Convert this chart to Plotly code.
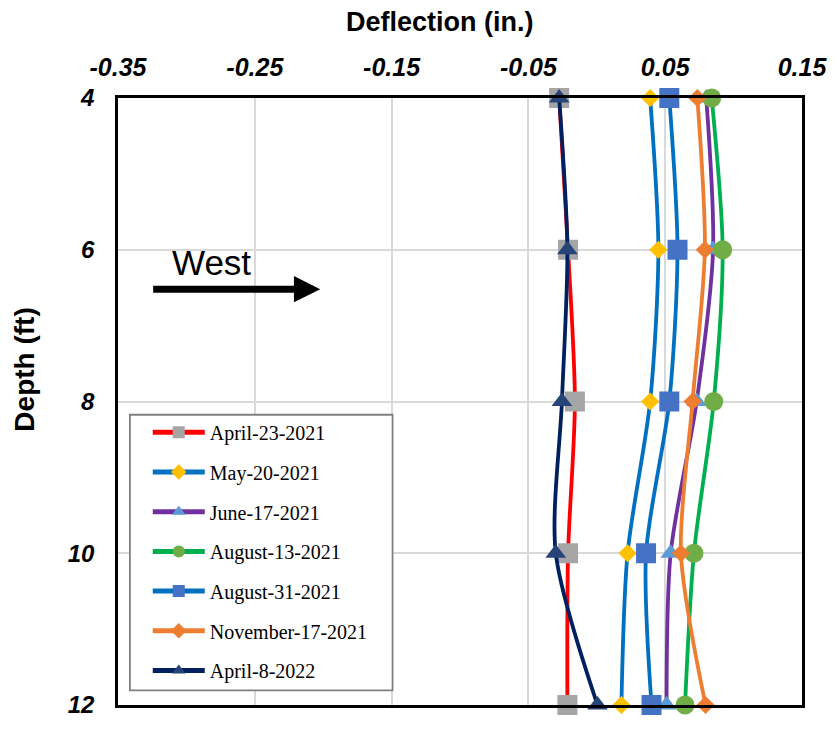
import plotly.graph_objects as go

depth = [4, 6, 8, 10, 12]

names = ["April-23-2021", "May-20-2021", "June-17-2021", "August-13-2021",
         "August-31-2021", "November-17-2021", "April-8-2022"]

apr23_2021 = [-0.0275, -0.021, -0.016, -0.021, -0.0215]
may20_2021 = [0.039, 0.045, 0.039, 0.0225, 0.018]
jun17_2021 = [0.080, 0.085, 0.073, 0.054, 0.051]
aug13_2021 = [0.084, 0.092, 0.0855, 0.071, 0.0645]
aug31_2021 = [0.053, 0.059, 0.053, 0.036, 0.040]
nov17_2021 = [0.0735, 0.079, 0.070, 0.0615, 0.0795]
apr8_2022 = [-0.0275, -0.0215, -0.0255, -0.030, 0.0005]

series = [apr23_2021, may20_2021, jun17_2021, aug13_2021, aug31_2021, nov17_2021, apr8_2022]
line_colors = ["#FF0000", "#0070C0", "#7030A0", "#00B050", "#0070C0", "#ED7D31", "#002060"]
marker_colors = ["#A5A5A5", "#FFC000", "#5B9BD5", "#70AD47", "#4472C4", "#ED7D31", "#264478"]
symbols = ["square", "diamond", "triangle-up", "circle", "square", "diamond", "triangle-up"]
msizes = [20, 14, 18, 19, 20, 14, 18]

x_ticks = [-0.35, -0.25, -0.15, -0.05, 0.05, 0.15]
y_ticks = [4, 6, 8, 10, 12]

SANS = "Liberation Sans, Arial, sans-serif"

fig = go.Figure()
for i, (nm, vals) in enumerate(zip(names, series)):
    fig.add_trace(go.Scatter(
        x=vals, y=depth, name=nm, mode="lines+markers",
        line=dict(color=line_colors[i], width=3.8, shape="spline", smoothing=0.8),
        marker=dict(symbol=symbols[i], color=marker_colors[i], size=msizes[i]),
        cliponaxis=False, legendgroup=f"g{i}",
    ))

fig.update_layout(
    width=839, height=730,
    margin=dict(l=118, r=31, t=98, b=13),
    plot_bgcolor="white", paper_bgcolor="white",
    showlegend=True,
    legend=dict(
        x=0.0435, y=0.4814, xanchor="left", yanchor="top",
        bgcolor="rgba(0,0,0,0)", borderwidth=0,
        font=dict(family="Liberation Serif, Times New Roman, serif", size=20, color="black"),
        tracegroupgap=10.7, itemwidth=52, itemsizing="constant",
    ),
    xaxis=dict(
        side="top", range=[-0.35, 0.15], tickvals=x_ticks,
        ticktext=[f"{v:.2f}" for v in x_ticks],
        showgrid=True, gridcolor="#D9D9D9", gridwidth=1.5,
        showline=True, linecolor="black", linewidth=2.5, mirror=True,
        zeroline=False, ticks="", ticklabelstandoff=9, ticklabeloverflow="allow",
        tickfont=dict(family=SANS, size=25, color="black", weight="bold", style="italic"),
    ),
    yaxis=dict(
        range=[12, 4], tickvals=y_ticks,
        showgrid=True, gridcolor="#D9D9D9", gridwidth=1.5,
        showline=True, linecolor="black", linewidth=2.5, mirror=True,
        zeroline=False, ticks="", ticklabelstandoff=16, ticklabeloverflow="allow",
        tickfont=dict(family=SANS, size=24, color="black", weight="bold", style="italic"),
    ),
    shapes=[
        dict(type="rect", xref="paper", yref="paper",
             x0=0.0174, x1=0.4014, y0=0.0242, y1=0.4782,
             fillcolor="white", line=dict(color="#808080", width=1.8), layer="above"),
    ],
    annotations=[
        dict(text="Deflection (in.)", xref="paper", yref="paper", x=0.471, y=1,
             yshift=76, xanchor="center", yanchor="middle", showarrow=False,
             font=dict(family=SANS, size=27, color="black", weight="bold")),
        dict(text="Depth (ft)", xref="paper", yref="paper", x=0, y=0.5525,
             xshift=-93, xanchor="center", yanchor="middle", textangle=-90, showarrow=False,
             font=dict(family=SANS, size=28, color="black", weight="bold")),
        dict(text="West", xref="x", yref="y", x=-0.2815, y=6.17, showarrow=False,
             xanchor="center", yanchor="middle",
             font=dict(family=SANS, size=35, color="black")),
        dict(text="", xref="x", yref="y", axref="x", ayref="y",
             x=-0.2022, y=6.52, ax=-0.3254, ay=6.52,
             showarrow=True, arrowhead=2, arrowsize=0.75, arrowwidth=7, arrowcolor="black"),
    ],
)

fig.write_html("out.html", config={"displayModeBar": False},
               post_script="document.body.style.margin='0px';document.body.style.overflow='hidden';")
